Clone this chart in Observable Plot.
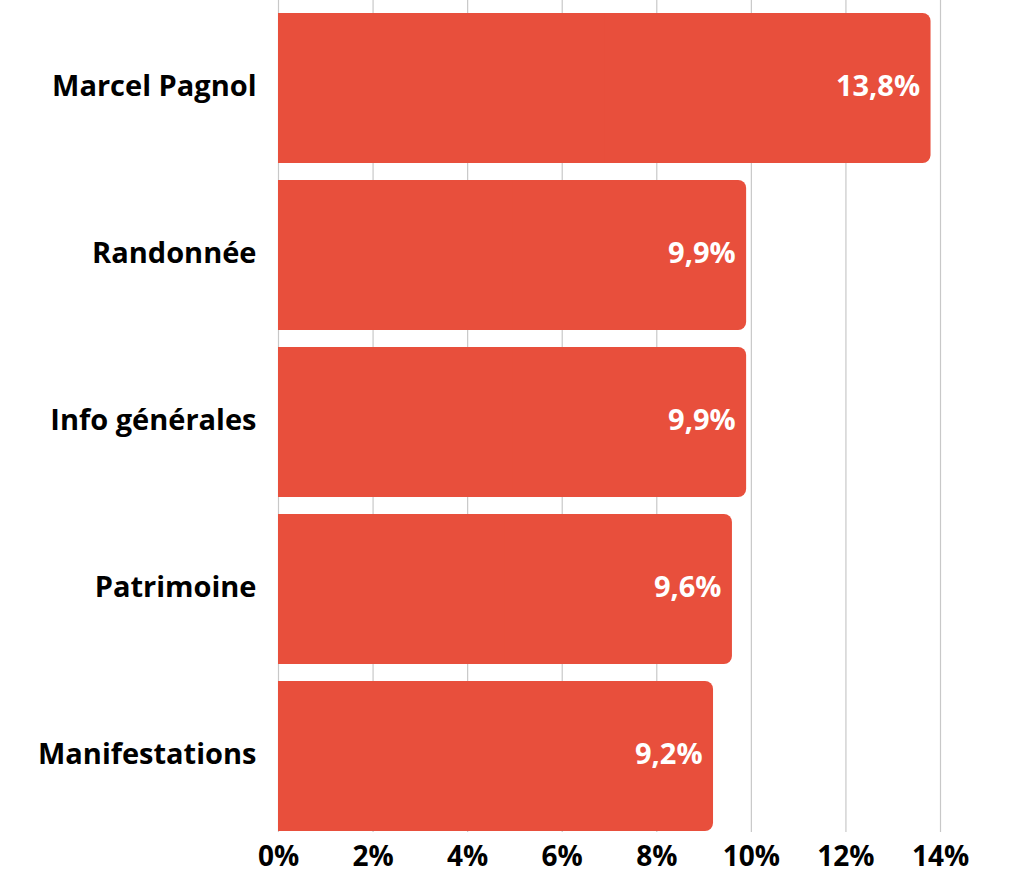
<!DOCTYPE html>
<html>
<head>
<meta charset="utf-8">
<script src="https://cdn.jsdelivr.net/npm/d3@7"></script>
<script src="https://cdn.jsdelivr.net/npm/@observablehq/plot@0.6"></script>
<style>
  html, body { margin: 0; padding: 0; background: #fff; }
  #chart svg { display: block; }
</style>
</head>
<body>
<div id="chart"></div>
<script>
const categories = ["Marcel Pagnol", "Randonnée", "Info générales", "Patrimoine", "Manifestations"];
const values = [13.8, 9.9, 9.9, 9.6, 9.2];
const valueLabels = ["13,8%", "9,9%", "9,9%", "9,6%", "9,2%"];
const tickValues = [0, 2, 4, 6, 8, 10, 12, 14];

const data = categories.map((c, i) => ({category: c, value: values[i], label: valueLabels[i]}));
const barColor = "#E84F3C";
const font = "'Open Sans', Inter, sans-serif";

const chart = Plot.plot({
  width: 1012,
  height: 873,
  marginLeft: 278,
  marginRight: 72,
  marginTop: 12,
  marginBottom: 41,
  style: {fontFamily: font, background: "#fff"},
  x: {domain: [0, 14], ticks: tickValues, tickFormat: d => d + "%"},
  y: {domain: categories, paddingInner: 0.1, paddingOuter: 0},
  marks: [
    Plot.ruleX(tickValues, {stroke: "#c8c8c8", strokeWidth: 1.2, insetTop: -12}),
    Plot.barX(data, {y: "category", x: "value", fill: barColor, rx: 8}),
    Plot.barX(data, {y: "category", x1: 0, x2: d => d.value / 2, fill: barColor}),
    Plot.text(data, {
      y: "category", x: "value", text: "label",
      textAnchor: "end", dx: -11, dy: -2, fill: "white",
      fontSize: 29, fontWeight: 700
    }),
    Plot.axisX(tickValues, {
      tickSize: 0, tickPadding: 14, fontSize: 28, fontWeight: 700,
      fill: "#000", tickFormat: d => d + "%", label: null
    }),
    Plot.axisY({
      tickSize: 0, tickPadding: 22, fontSize: 29, fontWeight: 700, dy: -2,
      fill: "#000", label: null
    })
  ]
});
document.getElementById("chart").appendChild(chart);
</script>
</body>
</html>
